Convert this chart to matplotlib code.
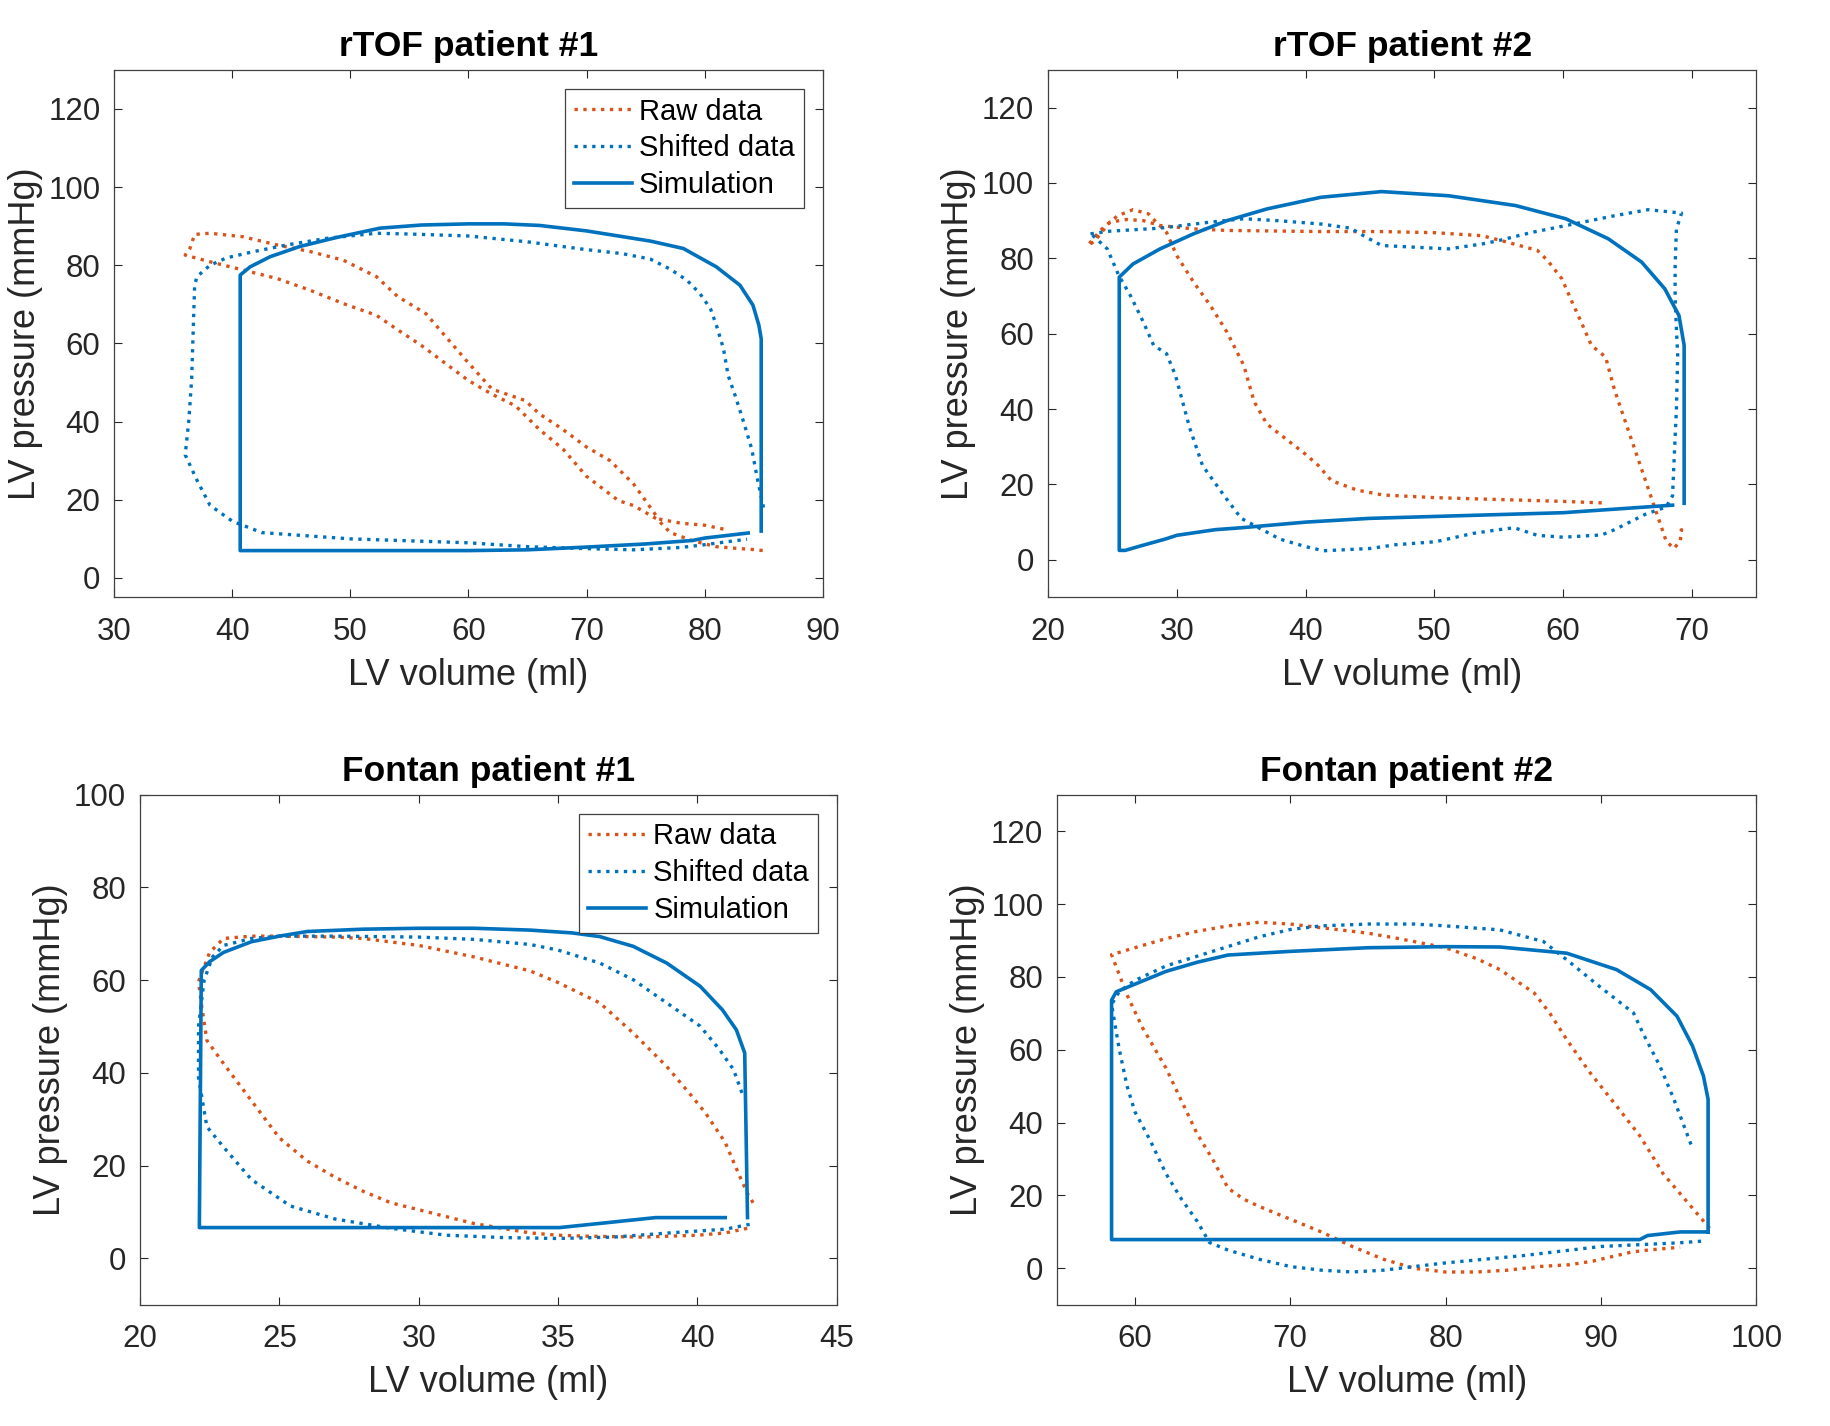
import matplotlib
matplotlib.use("Agg")
import matplotlib.pyplot as plt
import numpy as np

plt.rcParams['font.family'] = ['Liberation Sans', 'DejaVu Sans']

BLUE = '#0072BD'
ORANGE = '#D95319'

# ---------------- rTOF patient #1 ----------------
t1_sim_v = [83.7, 80, 79, 75, 70, 65, 60, 50, 40.66, 40.66, 41.5, 43.2, 45.7, 48.8, 52.5, 56, 60, 63, 66, 70, 75.4, 78.2, 81.0, 83.0, 84.1, 84.6, 84.8, 84.8]
t1_sim_p = [11.5, 10.2, 9.6, 8.7, 7.9, 7.2, 7, 7, 7, 77.5, 79.6, 82.2, 84.8, 87.1, 89.5, 90.3, 90.6, 90.6, 90.2, 88.8, 86.2, 84.3, 79.6, 74.9, 69.8, 64.7, 61.2, 12]
t1_raw_v = [81.6, 80, 78, 76.1, 74, 72, 70, 68, 66, 64.8, 62, 60, 58, 56.4, 54, 52.2, 49.4, 46.6, 43.8, 40.9, 38.1, 36.8, 36.4, 36.0, 38.1, 40.9, 43.8, 46.6, 49.4, 52.2, 54, 56, 58, 60, 62, 64, 66, 68, 70, 72.7, 74, 76, 77.1, 79, 81, 83, 84, 85]
t1_raw_p = [12.5, 13.5, 14, 15.1, 24, 30, 33.5, 38, 42, 45.4, 48.3, 55, 62, 67.6, 72, 77.1, 81.3, 83.5, 85.2, 87.3, 88.2, 87.9, 84.3, 82.6, 80.9, 78.8, 76.6, 73.6, 70.2, 67.2, 63.5, 59.5, 55, 50.5, 47, 44, 38, 33, 26, 19.8, 18.5, 15, 11.6, 9.5, 8, 7.5, 7.3, 7]
t1_sh_v = [85, 84.5, 84, 83.3, 82.6, 82.0, 81.6, 81.0, 80.5, 79.6, 78.5, 77.1, 75.4, 73, 70, 65, 60, 55, 52.2, 48, 44.6, 41.8, 39.5, 38.1, 37, 36.8, 36.55, 36.3, 36, 37, 38.1, 40, 42.5, 50, 55, 60, 65, 70, 74, 78, 80, 82, 83.6]
t1_sh_p = [18, 25, 33, 40, 46.6, 51.8, 58.7, 64.7, 68.9, 72.8, 76.2, 79, 81.6, 83, 84, 86, 87.5, 88, 88.2, 86.9, 85.2, 83.5, 81.9, 80, 77.1, 74.9, 51, 40, 31.5, 25, 18.6, 14.5, 11.6, 10, 9.5, 9, 8, 7.5, 7.2, 7.8, 8.5, 9.3, 9.9]

# ---------------- rTOF patient #2 ----------------
t2_sim_v = [68.5, 60, 50, 45, 40, 35, 33, 30, 29.2, 27, 26, 25.53, 25.53, 26.6, 28.7, 31.3, 33.9, 37, 41.2, 45.9, 51.1, 56.3, 60.2, 63.5, 66.1, 67.9, 69.0, 69.4, 69.4]
t2_sim_p = [14.5, 12.5, 11.5, 11, 10, 8.5, 8, 6.5, 5.6, 3.5, 2.5, 2.5, 75, 78.5, 82.5, 86.5, 90, 93.1, 96.2, 97.7, 96.6, 94, 90.5, 85.2, 79, 71.9, 64.8, 56.9, 15]
t2_raw_v = [63, 60, 55, 50, 46, 44, 42, 41, 40, 38.5, 37, 36, 35.2, 33.9, 32.6, 31.3, 30, 29.2, 28.4, 27.8, 26.6, 25.4, 24.2, 23.5, 23.1, 23.6, 24.8, 26.1, 27.4, 28.7, 31.3, 33.9, 41.2, 45.9, 50, 53.7, 55.2, 58, 58.8, 59.9, 60.7, 61.4, 62.2, 63.3, 64, 65, 66, 67, 68, 68.6, 69.1, 69.2, 69]
t2_raw_p = [15.1, 15.5, 16, 16.5, 17.2, 18.5, 21, 25, 28, 32, 36, 42, 51.6, 60.4, 67.5, 73.7, 80.7, 86.9, 89.6, 91.8, 92.9, 91.3, 87.8, 85.2, 83.4, 84.5, 89.6, 90.3, 90, 88.7, 87.8, 87.4, 87.1, 87.1, 86.8, 86, 84.7, 82.1, 79.4, 74.6, 68.4, 63.1, 56.9, 53.8, 45, 35, 25, 15, 5, 3, 5, 8, 7]
t2_sh_v = [23.3, 24.8, 28.7, 32.6, 35.2, 37.8, 41.2, 43.5, 44.5, 45.9, 51.1, 53.7, 55, 57.6, 61.4, 64, 66.6, 69.2, 68.8, 68.7, 68.7, 68.8, 68.9, 68.8, 68.6, 68.5, 68, 66.4, 64, 63, 60, 58, 56.2, 55, 53, 50.1, 47, 45, 41.4, 40, 38, 35, 33.7, 32, 31, 29.9, 29.2, 28.2, 27.4, 26.4, 25.5, 24.6, 23.5, 23.3]
t2_sh_p = [86.5, 87.2, 88, 89.6, 90.5, 90, 89.1, 88, 86, 83.4, 82.5, 83.8, 84.7, 86.9, 89.5, 91.3, 92.9, 92, 87.8, 78.1, 69.3, 61.3, 54.2, 40, 25, 17, 14, 12.1, 8, 6.6, 6, 6.5, 8.5, 8, 7, 4.8, 4, 3, 2.4, 3.5, 5.5, 11, 16.9, 25, 35, 48.9, 54.7, 56.9, 63.1, 70.1, 75.4, 82.5, 86, 86.5]

# ---------------- Fontan patient #1 ----------------
f1_sim_v = [41.0, 38.5, 35.06, 22.13, 22.2, 22.5, 23, 24, 25, 26, 28, 30, 32, 34, 35.5, 36.5, 37.7, 38.9, 40.1, 40.9, 41.4, 41.7, 41.8]
f1_sim_p = [8.8, 8.8, 6.65, 6.65, 62.1, 64, 66, 68.3, 69.5, 70.5, 71, 71.2, 71.2, 70.8, 70.2, 69.4, 67.3, 63.7, 58.7, 53.6, 49.3, 44.3, 8.8]
f1_raw_v = [42, 41.8, 41.5, 41, 40.3, 39.8, 38.9, 37.7, 36.5, 35, 34, 32, 30, 28, 27, 25, 24, 23, 22.5, 22.1, 22.2, 22.4, 23, 24, 25, 26, 27, 28, 29, 30, 31, 32, 33, 34, 35, 36, 38, 40, 41, 41.8]
f1_raw_p = [12, 14, 18, 25, 31.3, 35, 41.4, 48.6, 55.1, 59.5, 62, 65, 67.5, 69, 69.3, 69.5, 69.5, 69, 66, 59.7, 55, 47, 42, 34, 26, 21, 17.5, 14.5, 12, 10.5, 9, 7.5, 6.5, 5.5, 5, 4.8, 4.6, 5, 5.5, 6.5]
f1_sh_v = [41.6, 41.3, 40.8, 40.1, 38.9, 37.7, 36.5, 35, 34, 32, 30, 27, 25, 24, 23, 22.6, 22.3, 22.1, 22.1, 22.4, 23, 24, 25.4, 27, 29, 31, 33, 35, 37, 39, 41, 42]
f1_sh_p = [35.7, 40.7, 45, 50.1, 55.1, 60.1, 63.7, 66.5, 67.7, 68.8, 69.3, 69.5, 69.5, 69, 67.5, 65, 60, 50, 39, 28.4, 24, 17, 11.3, 8.5, 6.5, 5, 4.5, 4.3, 4.6, 5.5, 6.3, 7.5]

# ---------------- Fontan patient #2 ----------------
f2_sim_v = [96.9, 95.1, 93, 92.5, 58.5, 58.5, 58.8, 60, 62, 64, 66, 70, 75, 80, 83.5, 87.8, 91, 93.2, 94.9, 95.9, 96.6, 96.9, 96.9]
f2_sim_p = [10, 10, 9, 7.9, 7.9, 73.6, 75.9, 78, 81.5, 84, 86, 87, 88, 88.3, 88.2, 86.5, 82, 76.5, 69.2, 61, 52.8, 46.4, 10]
f2_raw_v = [97, 96, 95, 94, 93, 92.5, 91, 89.3, 87.8, 86.7, 85.7, 83.5, 82, 80, 77, 75, 72, 70, 68, 66, 64, 62, 60, 58.5, 59.5, 60.5, 62, 63, 64, 65, 66, 67, 68, 70, 72, 74, 76, 78, 80, 82, 84, 86, 88, 89.5, 91, 92, 93, 95.1]
f2_raw_p = [11, 16, 21, 26, 33, 36.4, 44.6, 53.7, 62.8, 70.1, 75.6, 82, 85, 88, 90.5, 92, 93.5, 94.5, 95, 94, 92.5, 90.5, 88, 86.1, 75, 66, 55, 46, 37, 30, 22, 19, 17, 13.5, 10, 6, 2.5, 0, -1, -1, -0.5, 0.5, 1, 2, 3.5, 4.5, 5, 5.8]
f2_sh_v = [95.8, 94.7, 93.8, 92.7, 92.1, 89.9, 87.8, 86.3, 83.5, 80, 78, 75, 72, 70, 68, 65, 62, 60, 59, 58.5, 59, 59.5, 60, 61, 62, 63, 64, 64.8, 66, 68, 70, 72, 74, 76, 77, 80, 85, 90, 95, 96.6]
f2_sh_p = [34, 46.4, 55.5, 64.6, 70.1, 77.4, 84.7, 89.7, 92.9, 94, 94.5, 94.5, 94, 93, 91, 87, 83, 79, 76, 72.4, 60, 50, 43, 35, 26, 19, 13, 7.1, 5, 2.5, 0.5, -0.5, -1, -0.5, 0, 1.5, 3.5, 6, 7, 7.5]

titles = ['rTOF patient #1', 'rTOF patient #2', 'Fontan patient #1', 'Fontan patient #2']
xlims = [(30, 90), (20, 75), (20, 45), (55, 100)]
ylims = [(-5, 130), (-10, 130), (-10, 100), (-10, 130)]
yticks = [np.arange(0, 121, 20), np.arange(0, 121, 20), np.arange(0, 101, 20), np.arange(0, 121, 20)]
xticks = [np.arange(30, 91, 10), np.arange(20, 71, 10), np.arange(20, 46, 5), np.arange(60, 101, 10)]
positions = [
    [0.0625, 0.581, 0.387, 0.370],
    [0.5727, 0.581, 0.387, 0.370],
    [0.0765, 0.085, 0.3807, 0.3577],
    [0.5777, 0.085, 0.382, 0.3577],
]
data = [
    (t1_raw_v, t1_raw_p, t1_sh_v, t1_sh_p, t1_sim_v, t1_sim_p),
    (t2_raw_v, t2_raw_p, t2_sh_v, t2_sh_p, t2_sim_v, t2_sim_p),
    (f1_raw_v, f1_raw_p, f1_sh_v, f1_sh_p, f1_sim_v, f1_sim_p),
    (f2_raw_v, f2_raw_p, f2_sh_v, f2_sh_p, f2_sim_v, f2_sim_p),
]
show_legend = [True, False, True, False]

fig = plt.figure(figsize=(18.3, 14.26), dpi=100)
fig.patch.set_facecolor('white')

for i in range(4):
    ax = fig.add_axes(positions[i])
    rv, rp, sv, sp, mv, mp = data[i]
    ax.plot(rv, rp, linestyle=':', color=ORANGE, linewidth=2.4, label='Raw data')
    ax.plot(sv, sp, linestyle=':', color=BLUE, linewidth=2.4, label='Shifted data')
    ax.plot(mv, mp, linestyle='-', color=BLUE, linewidth=2.6, label='Simulation',
            solid_joinstyle='round')
    ax.set_xlim(*xlims[i])
    ax.set_ylim(*ylims[i])
    ax.set_xticks(xticks[i])
    ax.set_yticks(yticks[i])
    ax.tick_params(direction='in', top=True, right=True, length=6, width=0.8,
                   labelsize=22.5, colors='#262626', pad=10)
    ax.tick_params(axis='x', pad=14)
    for s in ax.spines.values():
        s.set_color('#404040')
        s.set_linewidth(0.9)
    ax.set_xlabel('LV volume (ml)', fontsize=26, color='#262626', labelpad=8)
    ax.set_ylabel('LV pressure (mmHg)', fontsize=26, color='#262626', labelpad=4)
    ax.set_title(titles[i], fontsize=25.5, fontweight='bold', pad=10)
    if show_legend[i]:
        leg = ax.legend(loc='upper right', fontsize=21, fancybox=False, framealpha=1,
                        edgecolor='#404040', handlelength=2.0, borderaxespad=0.65,
                        labelspacing=0.3, borderpad=0.3, handletextpad=0.25)
        leg.get_frame().set_linewidth(0.9)

fig.savefig('out.png', dpi=100, facecolor='white')
